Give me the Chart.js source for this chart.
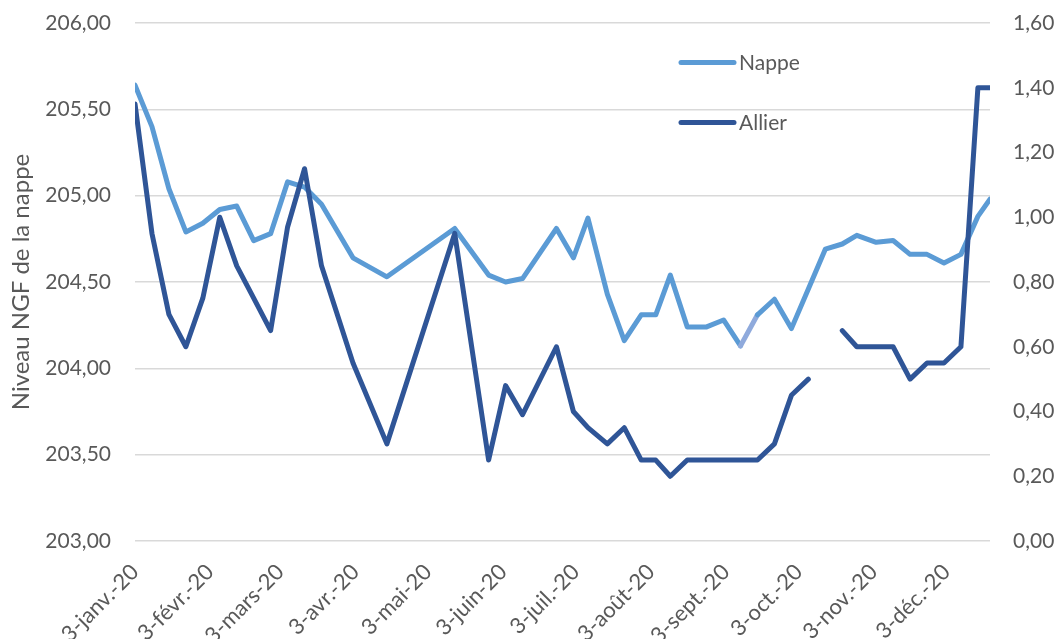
<!DOCTYPE html>
<html><head><meta charset="utf-8">
<script src="https://cdn.jsdelivr.net/npm/chart.js@4.4.0/dist/chart.umd.min.js"></script>
<style>html,body{margin:0;padding:0;background:#fff;overflow:hidden}#wrap{width:1057px;height:639px;position:relative}</style>
</head><body><div id="wrap"><canvas id="c"></canvas></div>
<script>
// days counted from 3 Jan 2020
const days = [0,7,14,21,28,35,42,49,56,63,70,77,90,104,132,146,153,160,174,181,187,195,202,209,215,221,228,236,243,250,257,264,271,278,285,292,298,306,313,320,327,334,341,348,353];
const nappe = [205.64,205.40,205.04,204.79,204.84,204.92,204.94,204.74,204.78,205.08,205.05,204.95,204.64,204.53,204.81,204.54,204.50,204.52,204.81,204.64,204.87,204.43,204.16,204.31,204.31,204.54,204.24,204.24,204.28,204.13,204.31,204.40,204.23,204.46,204.69,204.72,204.77,204.73,204.74,204.66,204.66,204.61,204.66,204.88,204.98];
const allier = [1.35,0.95,0.70,0.60,0.75,1.00,0.85,0.75,0.65,0.97,1.15,0.85,0.55,0.30,0.95,0.25,0.48,0.39,0.60,0.40,0.35,0.30,0.35,0.25,0.25,0.20,0.25,0.25,0.25,0.25,0.25,0.30,0.45,0.50,null,0.65,0.60,0.60,0.60,0.50,0.55,0.55,0.60,1.40,1.40];
const tickDays = [0,31,60,91,121,152,182,213,244,274,305,335];
const tickLabels = ['3-janv.-20','3-févr.-20','3-mars-20','3-avr.-20','3-mai-20','3-juin-20','3-juil.-20','3-août-20','3-sept.-20','3-oct.-20','3-nov.-20','3-déc.-20'];
const seriesNames = ['Nappe','Allier'];
const lightSegmentStart = 250;

const FONT = 'Lato, "Open Sans", sans-serif';
const TXT = '#595959';
const C_NAPPE = '#5B9BD5', C_ALLIER = '#2F5597', C_LIGHT = '#8FAADC';
Chart.defaults.font.family = FONT;
Chart.defaults.color = TXT;

const fmt = v => Number(v).toFixed(2).replace('.', ',');

const inLegend = {
  id: 'inLegend',
  afterDraw(chart) {
    const ctx = chart.ctx;
    const items = [[seriesNames[0], C_NAPPE, 62.5], [seriesNames[1], C_ALLIER, 122.5]];
    ctx.save();
    ctx.font = '21px ' + FONT;
    ctx.fillStyle = TXT;
    ctx.textBaseline = 'middle';
    ctx.textAlign = 'left';
    ctx.lineCap = 'round';
    ctx.lineWidth = 5;
    for (const [name, col, y] of items) {
      ctx.strokeStyle = col;
      ctx.beginPath(); ctx.moveTo(681, y); ctx.lineTo(734, y); ctx.stroke();
      ctx.fillText(name, 739, y + 1);
    }
    ctx.restore();
  }
};

const fixY = w => s => { s.width = w; s.paddingTop = 0; s.paddingBottom = 0; };

new Chart(document.getElementById('c'), {
  type: 'line',
  data: {
    datasets: [
      { label: seriesNames[0], data: days.map((d, i) => ({ x: d, y: nappe[i] })), yAxisID: 'y', order: 1,
        borderColor: C_NAPPE, borderWidth: 5, pointRadius: 0, tension: 0,
        borderCapStyle: 'round', borderJoinStyle: 'round',
        segment: { borderColor: c => c.p0.parsed.x === lightSegmentStart ? C_LIGHT : undefined } },
      { label: seriesNames[1], data: days.map((d, i) => ({ x: d, y: allier[i] })), yAxisID: 'y1', order: 0,
        borderColor: C_ALLIER, borderWidth: 5, pointRadius: 0, tension: 0, spanGaps: false,
        borderCapStyle: 'round', borderJoinStyle: 'round' }
    ]
  },
  options: {
    responsive: true, maintainAspectRatio: false, animation: false,
    layout: { padding: { top: 23, left: 0, right: 0, bottom: 0 } },
    plugins: { legend: { display: false }, tooltip: { enabled: false } },
    scales: {
      x: {
        type: 'linear', min: 0, max: 353,
        afterBuildTicks: s => { s.ticks = tickDays.map(v => ({ value: v })); },
        ticks: { autoSkip: false, maxRotation: 45, minRotation: 45, padding: 18, font: { size: 22 },
          callback: (v, i) => tickLabels[i] },
        grid: { display: false, drawTicks: false },
        border: { display: false },
        afterFit: s => { s.height = 98; s.paddingLeft = 0; s.paddingRight = 0; }
      },
      y: {
        position: 'left', min: 203, max: 206,
        ticks: { stepSize: 0.5, padding: 24, font: { size: 21 }, callback: v => fmt(v) },
        grid: { color: '#D9D9D9', lineWidth: 1.5, drawTicks: false },
        border: { display: false },
        title: { display: true, text: 'Niveau NGF de la nappe', font: { size: 24 }, padding: { top: 7, bottom: 0 } },
        afterFit: fixY(135)
      },
      y1: {
        position: 'right', min: 0, max: 1.6,
        ticks: { stepSize: 0.2, padding: 23, font: { size: 21 }, callback: v => fmt(v) },
        grid: { display: false, drawTicks: false },
        border: { display: false },
        afterFit: fixY(67)
      }
    }
  },
  plugins: [inLegend]
});
</script>
</body></html>
